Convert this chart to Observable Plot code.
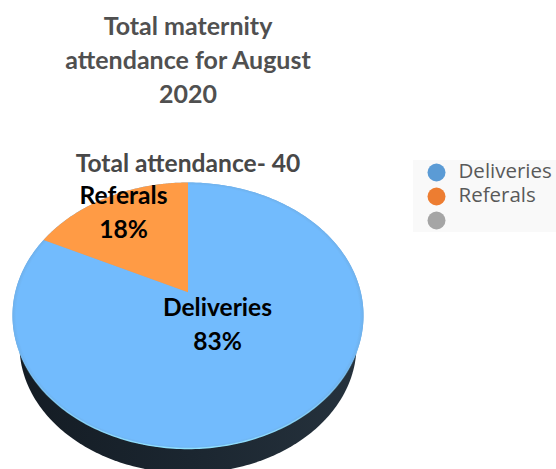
<!DOCTYPE html>
<html>
<head>
<meta charset="utf-8">
<script src="https://cdn.jsdelivr.net/npm/d3@7"></script>
<script src="https://cdn.jsdelivr.net/npm/@observablehq/plot@0.6"></script>
<style>html,body{margin:0;padding:0;background:#fff}svg{display:block}</style>
</head>
<body>
<div id="chart"></div>
<script>
const categories = ["Deliveries", "Referals"];
const percents = [83, 18];
const legendLabels = ["Deliveries", "Referals", ""];
const titleLines = ["Total maternity", "attendance for August", "2020"];
const subtitle = "Total attendance- 40";

// Page-space layout of the perspective pie
const apex = {x: 187.5, y: 291.7};
const A = 172.8, B = 128.9, P = 0.1752;
const steps = 180;

const project = (a, k = 1, dy = 0) => {
  const ux = Math.sin(a), uy = Math.cos(a), d = 1 + P * uy;
  return {x: apex.x + k * A * ux / d, y: apex.y + dy - k * B * uy / d};
};
const arcs = d3.pie().sort(null).value(d => d.value)(
  categories.map((name, i) => ({name, value: percents[i]}))
);
const slice = arc => {
  const pts = [{x: apex.x, y: apex.y}];
  for (let i = 0; i <= steps; i++) {
    pts.push(project(arc.startAngle + (arc.endAngle - arc.startAngle) * i / steps));
  }
  return pts;
};
const ring = (k, dy) => d3.range(steps * 2 + 1).map(i => project(i / (steps * 2) * 2 * Math.PI, k, dy));

const legendColors = ["#5b9bd5", "#ed7d31", "#a5a5a5"];
const legendRows = legendLabels.map((label, i) => ({label, color: legendColors[i], y: 172 + i * 24}));

const defs = () => d3.create("svg:defs").html(`
  <radialGradient id="face" gradientUnits="userSpaceOnUse" cx="0" cy="0" r="1"
    gradientTransform="translate(187.5 315) scale(176 133.5)">
    <stop offset="0" stop-color="#72bbfd"/>
    <stop offset="0.975" stop-color="#72bbfd"/>
    <stop offset="1" stop-color="#6fb0ea"/>
  </radialGradient>
  <linearGradient id="rim" gradientUnits="userSpaceOnUse" x1="0" y1="340" x2="0" y2="448">
    <stop offset="0" stop-color="#8fdcff" stop-opacity="0"/>
    <stop offset="0.6" stop-color="#8fdcff" stop-opacity="0.7"/>
    <stop offset="1" stop-color="#90e0ff"/>
  </linearGradient>
  <linearGradient id="side" gradientUnits="userSpaceOnUse" x1="20" y1="0" x2="360" y2="0">
    <stop offset="0" stop-color="#141c24"/>
    <stop offset="0.5" stop-color="#1b2630"/>
    <stop offset="1" stop-color="#26323d"/>
  </linearGradient>`).node();

const textBase = {x: "x", y: "y", text: "t", fontFamily: "Lato, Carlito, sans-serif", fontWeight: 700};

const plot = Plot.plot({
  width: 556,
  height: 469,
  margin: 0,
  x: {domain: [0, 556], range: [0, 556], axis: null},
  y: {domain: [0, 469], range: [0, 469], axis: null},
  style: {background: "#fff"},
  marks: [
    defs,
    Plot.line(ring(0.96, 31), {x: "x", y: "y", fill: "url(#side)", stroke: "none"}),
    Plot.line(ring(1, 0), {x: "x", y: "y", fill: "#6fb0ea", stroke: "none"}),
    Plot.line(slice(arcs[0]), {x: "x", y: "y", fill: "url(#face)", stroke: "none"}),
    Plot.line(slice(arcs[1]), {x: "x", y: "y", fill: "#ff9b45", stroke: "none"}),
    Plot.line(ring(1, 0).filter(d => d.y > 345), {x: "x", y: "y", stroke: "url(#rim)", strokeWidth: 1.4}),
    Plot.text(titleLines.map((t, i) => ({t, x: 187.5, y: 26 + i * 34})),
      {...textBase, fontSize: 25, fill: "#505050"}),
    Plot.text([{t: subtitle, x: 187.5, y: 164}], {...textBase, fontSize: 24.6, fill: "#484848"}),
    Plot.text([
      {t: categories[1], x: 123, y: 196},
      {t: percents[1] + "%", x: 123, y: 230},
      {t: categories[0], x: 217, y: 308},
      {t: percents[0] + "%", x: 217, y: 342}
    ], {...textBase, fontSize: 24.6, fill: "#000"}),
    Plot.rect([{x1: 413, x2: 556, y1: 160, y2: 232}], {x1: "x1", x2: "x2", y1: "y1", y2: "y2", fill: "#f9f9f9"}),
    Plot.dot(legendRows, {x: () => 436, y: "y", r: 9, fill: "color", stroke: "none"}),
    Plot.text(legendRows, {x: () => 458, y: d => d.y - 1, text: "label", textAnchor: "start",
      fontFamily: "Open Sans, sans-serif", fontSize: 20.5, fill: "#595959"})
  ],
  color: {type: "identity"}
});
document.getElementById("chart").append(plot);
</script>
</body>
</html>
